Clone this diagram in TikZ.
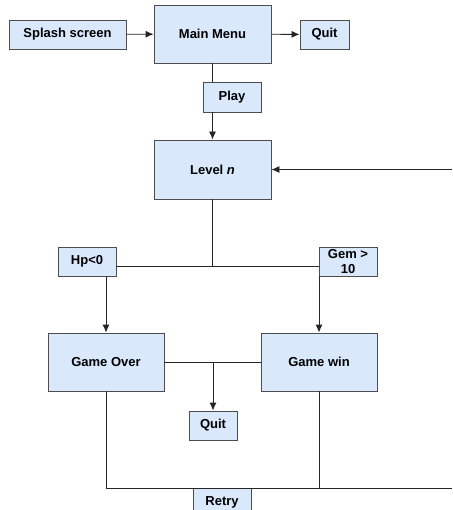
\documentclass[tikz,border=0pt]{standalone}
\usepackage{fontspec}
\setmainfont{Liberation Sans}
\usepackage{tikz}
\usetikzlibrary{arrows.meta}

\definecolor{boxfill}{HTML}{DAE8FC}
\definecolor{boxline}{HTML}{4D4D4D}

\tikzset{
  state/.style={draw=boxline, fill=boxfill, line width=0.9pt, inner sep=0pt,
    font=\fontsize{13}{14}\selectfont\bfseries, align=center},
  link/.style={line width=0.9pt, black!85},
  go/.style={link, -{Latex[length=8pt,width=7pt]}}
}

\begin{document}
\begin{tikzpicture}[x=1pt,y=-1pt] %[xscale=1.3,yscale=1.3]
\useasboundingbox (0,0) rectangle (452,510);

\node[state, minimum width=117pt, minimum height=29pt] (splash) at (67.5,34.5) {Splash screen};
\node[state, minimum width=117pt, minimum height=58pt] (menu) at (212.5,34) {Main Menu};
\node[state, minimum width=49pt, minimum height=29pt] (quitA) at (324.5,34.5) {Quit};
\node[state, minimum width=58pt, minimum height=30pt] (play) at (232,97) {Play};
\node[state, minimum width=117pt, minimum height=59pt] (level) at (212.5,169.5) {Level \textit{n}};
\node[state, minimum width=58pt, minimum height=29pt] (hp) at (87,261.5) {Hp\textless0};
\node[state, minimum width=58pt, minimum height=29pt, font=\fontsize{13}{15}\selectfont\bfseries] (gem) at (348,261.5) {Gem \textgreater\\10};
\node[state, minimum width=116pt, minimum height=58pt] (over) at (106,362) {Game Over};
\node[state, minimum width=116pt, minimum height=58pt] (win) at (319,362) {Game win};
\node[state, minimum width=48pt, minimum height=29pt] (quitB) at (213,425.5) {Quit};
\node[state, minimum width=58pt, minimum height=29pt] (retry) at (222,502.5) {Retry};

\coordinate (loopin) at (452,169.5);
\coordinate (split) at (212.5,266);
\coordinate (merge) at (213,362);
\coordinate (back) at (452,488);

% top row
\draw[go] (splash) -- (menu);
\draw[go] (menu) -- (quitA);
\draw[link] (menu.south) -- (menu.south |- play.north);
\draw[go] (play.south -| menu.south) -- (level.north);
\draw[go] (loopin) -- (level.east);

% branches
\draw[link] (level.south) -- (split);
\draw[link] (hp.east |- split) -- (gem.west |- split);
\draw[go] (hp.south -| over.north) -- (over.north);
\draw[go] (gem.south -| win.north) -- (win.north);

% end states
\draw[link] (over.east) -- (win.west);
\draw[go] (merge) -- (quitB.north);
\draw[link] (over.south) -- (over.south |- back) -- (back);
\draw[link] (win.south) -- (win.south |- back);
\end{tikzpicture}
\end{document}
